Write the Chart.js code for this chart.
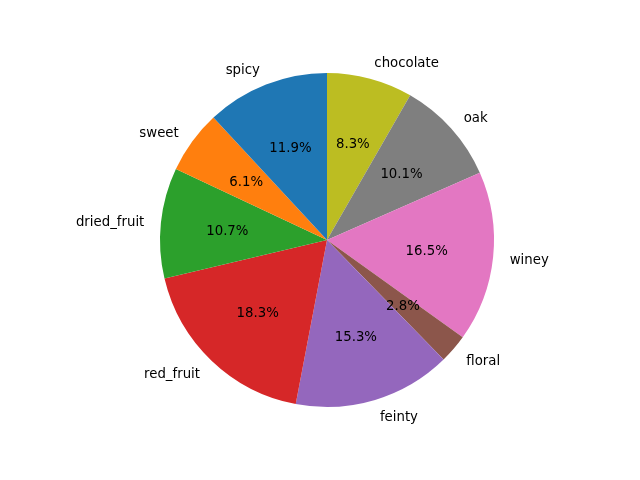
<!DOCTYPE html>
<html><head><meta charset="utf-8">
<script src="https://cdn.jsdelivr.net/npm/chart.js@4"></script>
<style>html,body{margin:0;padding:0;background:#fff}#w{width:640px;height:480px}</style>
</head><body><div id="w"><canvas id="c" width="640" height="480"></canvas></div>
<script>
// matplotlib order (counterclockwise from top)
const categories = ["spicy","sweet","dried_fruit","red_fruit","feinty","floral","winey","oak","chocolate"];
const values = [11.9, 6.1, 10.7, 18.3, 15.3, 2.8, 16.5, 10.1, 8.3];
const colors = ["#1f77b4","#ff7f0e","#2ca02c","#d62728","#9467bd","#8c564b","#e377c2","#7f7f7f","#bcbd22"];

// Chart.js draws clockwise, so reverse
const labels = categories.slice().reverse();
const data = values.slice().reverse();
const bg = colors.slice().reverse();

const labelPlugin = {
  id: 'pieLabels',
  afterDatasetsDraw(chart) {
    const ctx = chart.ctx;
    const meta = chart.getDatasetMeta(0);
    ctx.save();
    ctx.font = '13.3px "DejaVu Sans"';
    ctx.fillStyle = '#000';
    ctx.textBaseline = 'middle';
    const dy = 1.5;
    meta.data.forEach((arc, i) => {
      const p = arc.getProps(['x','y','startAngle','endAngle','outerRadius'], true);
      const mid = (p.startAngle + p.endAngle) / 2;
      const r = p.outerRadius;
      const c = Math.cos(mid), s = Math.sin(mid);
      // outer label
      ctx.textAlign = c > 0 ? 'left' : 'right';
      ctx.fillText(labels[i], p.x + c * r * 1.1, p.y + s * r * 1.1 + dy);
      // percentage
      ctx.textAlign = 'center';
      ctx.fillText(data[i].toFixed(1) + '%', p.x + c * r * 0.6, p.y + s * r * 0.6 + dy);
    });
    ctx.restore();
  }
};

new Chart(document.getElementById('c'), {
  type: 'pie',
  data: { labels: labels, datasets: [{ data: data, backgroundColor: bg, borderWidth: 0 }] },
  options: {
    responsive: false,
    animation: false,
    layout: { padding: { top: 73, bottom: 73, left: 160, right: 146 } },
    plugins: { legend: { display: false }, tooltip: { enabled: false } }
  },
  plugins: [labelPlugin]
});
</script>
</body></html>
